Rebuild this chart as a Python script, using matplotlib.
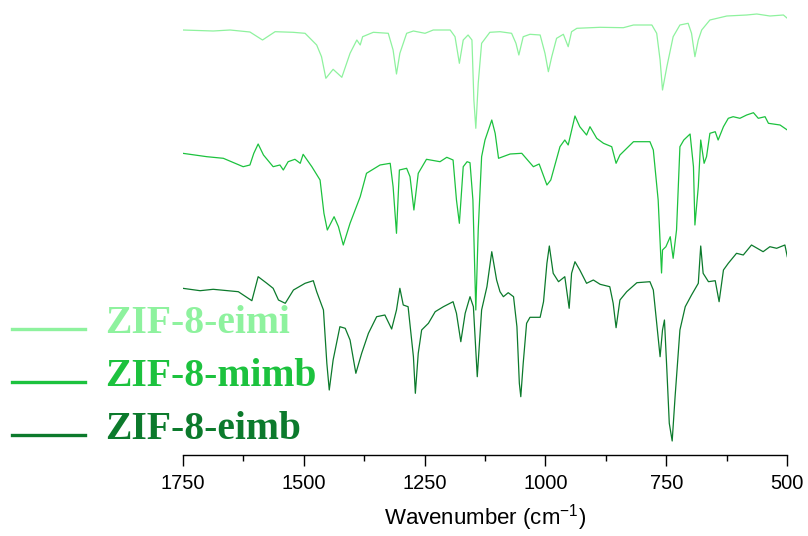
import numpy as np
import matplotlib.pyplot as plt
from matplotlib.lines import Line2D

plt.rcParams['font.family'] = ['Liberation Sans', 'DejaVu Sans']
plt.rcParams['mathtext.fontset'] = 'custom'
plt.rcParams['mathtext.rm'] = 'Liberation Sans'
plt.rcParams['mathtext.it'] = 'Liberation Sans'

names = ['ZIF-8-eimi', 'ZIF-8-mimb', 'ZIF-8-eimb']
colors = ['#8ef29e', '#1cc23e', '#0c7a2c']

# FTIR spectra, transmittance in a.u. (each trace on its own scale)
wn_eimi = [1750, 1687, 1652, 1611, 1585, 1559, 1522, 1497, 1473, 1463, 1454, 1439, 1421,
           1404, 1390, 1383, 1378, 1356, 1325, 1315, 1308, 1301, 1287, 1273, 1249, 1232,
           1197, 1187, 1178, 1170, 1160, 1152, 1148, 1144, 1139, 1132, 1115, 1094, 1070,
           1061, 1055, 1046, 1032, 1011, 1001, 994, 987, 977, 963, 953, 946, 935, 887, 839,
           818, 780, 770, 763, 758, 749, 736, 722, 705, 698, 691, 684, 677, 660, 625, 584,
           563, 536, 508, 500]
t_eimi = [100, 99, 100, 98, 90, 98.3, 97.7, 96.7, 85, 73.3, 51.7, 60.7, 52.7,
          76.7, 90, 85, 93.3, 97.7, 96.7, 80, 56, 76.7, 96.7, 99, 96.7, 100,
          100, 93.3, 66.7, 90, 95, 90, 30, 1.7, 46.7, 86.7, 97.7, 98.3, 96.7,
          86.7, 75, 93.3, 95.7, 95, 76.7, 58.3, 73.3, 91.7, 95.7, 83.3, 98.3, 101.7, 102.7, 102.3,
          105, 105, 96.7, 70, 40, 63.3, 93.3, 105, 106.7, 96.7, 73.3, 90, 100, 110, 114, 115,
          116, 114, 115, 111.7]

wn_mimb = [1750, 1700, 1666, 1625, 1611, 1603, 1594, 1583, 1563, 1549, 1542, 1532, 1518,
           1507, 1501, 1483, 1466, 1458, 1451, 1437, 1428, 1418, 1404, 1383, 1370, 1342,
           1321, 1315, 1308, 1302, 1287, 1280, 1272, 1263, 1246, 1218, 1204, 1191, 1184,
           1178, 1170, 1162, 1156, 1150, 1144, 1139, 1132, 1125, 1111, 1104, 1097, 1073,
           1049, 1025, 1013, 997, 989, 970, 960, 953, 939, 929, 915, 908, 894, 880, 863,
           854, 846, 818, 784, 777, 767, 760, 758, 751, 742, 736, 729, 722, 714, 701, 694,
           691, 684, 679, 672, 667, 660, 649, 643, 632, 622, 612, 598, 584, 570, 560, 546,
           539, 515, 500]
t_mimb = [121.7, 118.3, 116.7, 108.3, 110, 121.7, 131, 120, 108.3, 110, 105, 113.3, 115.7,
          111.7, 120.7, 108.3, 95, 61.7, 45, 58.3, 48.3, 30, 51.7, 78.3, 101.7, 110,
          111.7, 88.3, 41.7, 105, 106.7, 98.3, 65, 101.7, 115.7, 113.3, 117.7, 115, 75,
          51.7, 108.3, 113.3, 112.3, 75, -35, 45, 118.3, 135, 155, 141.7, 116.7, 121,
          121.7, 108.3, 111, 90, 95, 128.3, 135, 130, 159, 148.3, 140, 148.3, 136.7, 131.7, 128.3,
          111.7, 120, 133.3, 133.3, 125, 75, 2, 25, 28.3, 38.3, 16.7, 45, 128.3, 135, 141, 108.3,
          50, 88.3, 135, 111.7, 118.3, 141.7, 143.3, 135, 148.3, 156.7, 158.3, 156.7, 160, 162.3, 156.7, 158.3,
          151.7, 150, 145]

wn_eimb = [1750, 1714, 1687, 1635, 1607, 1594, 1576, 1563, 1552, 1538, 1521, 1497, 1480,
           1473, 1459, 1452, 1447, 1439, 1425, 1414, 1404, 1392, 1380, 1366, 1349, 1332,
           1318, 1308, 1301, 1294, 1284, 1273, 1269, 1263, 1256, 1242, 1228, 1211, 1191,
           1184, 1175, 1166, 1156, 1149, 1141, 1132, 1121, 1111, 1101, 1094, 1087, 1077,
           1066, 1059, 1054, 1051, 1046, 1039, 1032, 1011, 1004, 997, 992, 984, 973, 960,
           951, 946, 939, 929, 915, 901, 887, 867, 860, 854, 846, 832, 811, 784, 777, 770,
           763, 758, 754, 749, 744, 738, 732, 722, 711, 698, 684, 679, 674, 663, 649, 641,
           632, 622, 605, 591, 574, 550, 536, 522, 505, 500]
t_eimb = [156.7, 154.3, 155.7, 153.3, 144.3, 168.3, 161.7, 156.7, 145, 141.7, 155, 161.7, 164.3,
          153.3, 135, 81.7, 55, 85, 118.3, 116.7, 105, 71.7, 91.7, 111.7, 128.3, 130,
          116, 135, 156.7, 140, 138.3, 88.3, 51.7, 91.7, 115, 121.7, 133.3, 138.3, 143.3,
          131.7, 103.3, 131.7, 148.3, 138.3, 68.3, 135, 158.3, 193.3, 165, 153.3, 148.3, 152.3,
          148.3, 118.3, 61.7, 48.3, 81.7, 121.7, 127.7, 127.7, 143.3, 181.7, 199, 171.7, 163.3, 168.3,
          136.7, 171.7, 183.3, 175, 161.7, 165, 160.7, 158.3, 141.7, 117.3, 145, 153.3, 162.3, 163.3, 155, 121.7,
          88.3, 115, 125, 75, 21.7, 4, 48.3, 115, 138.3, 150, 161.7, 199, 171.7, 163.3, 164.3, 143.3,
          175, 181.7, 191.7, 190, 200, 193.3, 198.3, 196.7, 200, 188.3]

spectra = [(wn_eimi, t_eimi), (wn_mimb, t_mimb), (wn_eimb, t_eimb)]
offsets = [325, 180, 10]

fig = plt.figure(figsize=(8.08, 5.36), dpi=100)
ax = fig.add_axes([182.7 / 808, 81 / 536, 604.6 / 808, 455 / 536])

for (wn, t), off, c in zip(spectra, offsets, colors):
    ax.plot(wn, np.array(t) + off, color=c, lw=0.9)

ax.set_xlim(1750, 500)
ax.set_ylim(0, 455)
ax.set_xticks([1750, 1500, 1250, 1000, 750, 500])
ax.set_xticks([1625, 1375, 1125, 875, 625], minor=True)
ax.tick_params(axis='x', which='major', length=8, width=1, labelsize=14.5, pad=6)
ax.tick_params(axis='x', which='minor', length=4, width=1)
ax.set_yticks([])
for s in ['left', 'top', 'right']:
    ax.spines[s].set_visible(False)
ax.spines['bottom'].set_linewidth(1)
ax.set_xlabel('Wavenumber (cm$^{-1}$)', fontsize=16, labelpad=6)

# legend drawn by hand on the left
for i, (name, c) in enumerate(zip(names, colors)):
    yl = 1 - (329 + 53 * i) / 536
    yt = 1 - (333 + 53 * i) / 536
    fig.add_artist(Line2D([12 / 808, 85 / 808], [yl, yl], color=c, lw=2.4,
                          transform=fig.transFigure))
    fig.text(105 / 808, yt, name, color=c, fontsize=28.5, fontweight='bold',
             family=['Liberation Serif', 'DejaVu Serif'], va='baseline', ha='left')

fig.savefig('out.png', dpi=100)
